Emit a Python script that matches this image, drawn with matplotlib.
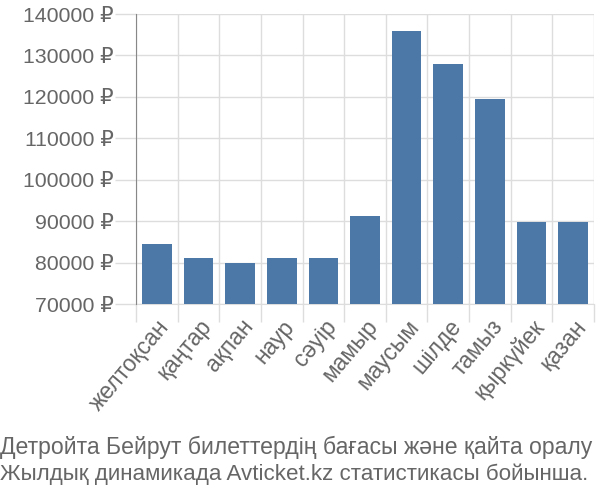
import numpy as np
import matplotlib
matplotlib.use('Agg')
import matplotlib.pyplot as plt

plt.rcParams['font.family'] = ['Liberation Sans', 'DejaVu Sans']

# данные
months = ['желтоқсан', 'қаңтар', 'ақпан', 'наур', 'сәуір', 'мамыр',
          'маусым', 'шілде', 'тамыз', 'қыркүйек', 'қазан']
prices = [84500, 81000, 80000, 81000, 81000, 91200,
          135900, 127900, 119500, 89700, 89700]
y_ticks = [70000, 80000, 90000, 100000, 110000, 120000, 130000, 140000]
caption = ['Детройта Бейрут билеттердің бағасы және қайта оралу',
           'Жылдық динамикада Avticket.kz статистикасы бойынша.']

grid_c = '#dddddd'
text_c = '#666666'

fig = plt.figure(figsize=(6, 5), dpi=100)
ax = fig.add_axes([136 / 600, 1 - 304 / 500, 458 / 600, 290 / 500])

x = np.arange(len(months))
ax.bar(x, prices, width=0.71, color='#4c78a8', zorder=3)

ax.set_xlim(-0.5, len(months) - 0.5)
ax.set_ylim(y_ticks[0], y_ticks[-1])

# ось Y
ax.set_yticks(y_ticks)
ax.set_yticklabels([f'{v} ₽' for v in y_ticks])
ax.tick_params(axis='y', length=15, width=1, color=grid_c, pad=1,
               labelsize=15.3, labelcolor=text_c)
ax.yaxis.grid(True, color=grid_c, linewidth=1, zorder=0)

# ось X: сетка по границам категорий
ax.set_xticks(x)
ax.set_xticklabels(months, rotation=50, ha='right', rotation_mode='anchor')
ax.tick_params(axis='x', which='major', length=0, pad=8,
               labelsize=16.5, labelcolor=text_c)
ax.set_xticks(np.arange(-0.5, len(months)), minor=True)
ax.tick_params(axis='x', which='minor', length=13, width=1, color=grid_c)
ax.xaxis.grid(True, which='minor', color=grid_c, linewidth=1, zorder=0)

for s in ['top', 'right']:
    ax.spines[s].set_visible(False)
ax.spines['bottom'].set_color(grid_c)
ax.spines['left'].set_color('#888888')
ax.spines['left'].set_zorder(4)

fig.text(0.0, 1 - 447 / 500, caption[0], fontsize=16.6, color=text_c,
         va='center', ha='left')
fig.text(0.0, 1 - 474 / 500, caption[1], fontsize=16.1, color=text_c,
         va='center', ha='left')

fig.savefig('out.png', dpi=100)
